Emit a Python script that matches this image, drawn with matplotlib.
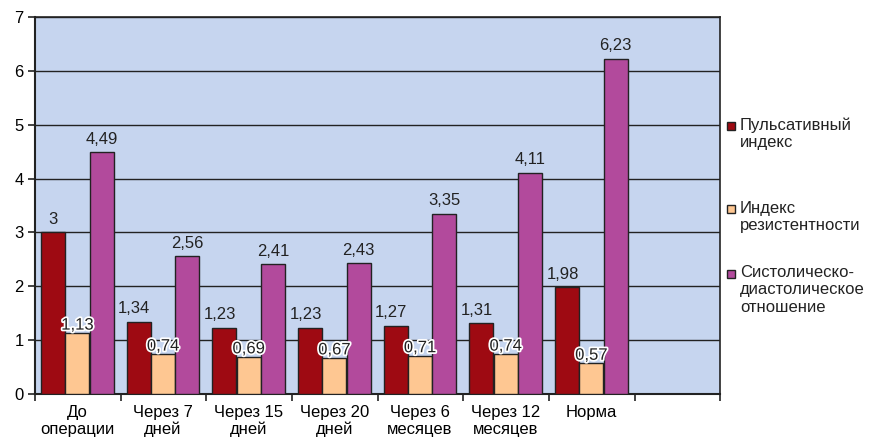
import matplotlib
matplotlib.use("Agg")
import matplotlib.pyplot as plt
import matplotlib.patheffects as pe
from matplotlib.patches import Rectangle
import numpy as np

plt.rcParams['font.family'] = ['Liberation Sans', 'DejaVu Sans']

categories = ["До\nоперации", "Через 7\nдней", "Через 15\nдней", "Через 20\nдней",
              "Через 6\nмесяцев", "Через 12\nмесяцев", "Норма"]
series_names = ["Пульсативный\nиндекс", "Индекс\nрезистентности", "Систолическо-\nдиастолическое\nотношение"]
pulsative = [3, 1.34, 1.23, 1.23, 1.27, 1.31, 1.98]
resistance = [1.13, 0.74, 0.69, 0.67, 0.71, 0.74, 0.57]
sd_ratio = [4.49, 2.56, 2.41, 2.43, 3.35, 4.11, 6.23]
colors = ["#9e0a12", "#fec792", "#b24a9c"]

def fmt(v):
    s = f"{v:.2f}".rstrip('0').rstrip('.')
    return s.replace('.', ',')

FS = 12
fig = plt.figure(figsize=(8.74, 4.44), dpi=100)
ax = fig.add_axes([0.040, 0.1126, 0.784, 0.849])
ax.set_facecolor("#c6d5ef")

x = np.arange(len(categories)) + 0.495
w = 0.28
offs = [-0.285, 0, 0.285]
for i, (vals, col) in enumerate(zip([pulsative, resistance, sd_ratio], colors)):
    ax.bar(x + offs[i], vals, width=w, color=col, edgecolor="#222222", linewidth=1.0, zorder=3)
    for j, (xi, v) in enumerate(zip(x + offs[i], vals)):
        if i == 1:
            ax.text(xi, v + 0.01, fmt(v), ha='center', va='bottom', fontsize=FS, color="#222222",
                    zorder=5, path_effects=[pe.withStroke(linewidth=2.5, foreground='white')])
        else:
            dx = -0.05 if (i == 0 and j > 0) else 0
            ax.text(xi + dx, v + 0.1, fmt(v), ha='center', va='bottom',
                    fontsize=FS, color="#222222", zorder=5)

ax.set_xlim(0, 8)
ax.set_ylim(0, 7)
ax.set_yticks(range(0, 8))
ax.yaxis.grid(True, color="#222222", linewidth=1.0, zorder=1)
ax.set_axisbelow(True)
ax.set_xticks(range(0, 9))
ax.set_xticklabels([])
ax.set_xticks(x, minor=True)
ax.set_xticklabels(categories, minor=True, fontsize=FS, linespacing=1.15)
ax.tick_params(axis='x', which='minor', length=0, pad=8)
ax.tick_params(axis='x', which='major', length=5, width=1.2, color="#222222")
ax.tick_params(axis='y', length=5, width=1.2, color="#222222", labelsize=FS, pad=3)
for s in ax.spines.values():
    s.set_color("#222222")
    s.set_linewidth(1.2)
ax.spines['bottom'].set_linewidth(1.5)
ax.spines['left'].set_linewidth(1.5)

# legend
W, H = 874, 444
leg_y = [126.5, 209.5, 274]
for name, col, yy in zip(series_names, colors, leg_y):
    fig.patches.append(Rectangle((727 / W, 1 - (yy + 4) / H), 8 / W, 8 / H, transform=fig.transFigure,
                                 facecolor=col, edgecolor="#222222", linewidth=1.0))
    fig.text(740 / W, 1 - (yy - 9) / H, name, ha='left', va='top', fontsize=FS, color="#222222",
             linespacing=1.2)

fig.savefig("out.png", dpi=100)
